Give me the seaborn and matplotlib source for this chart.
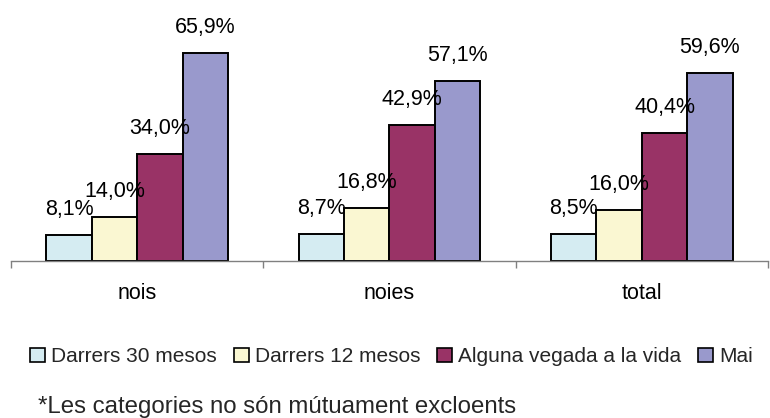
import matplotlib
matplotlib.use("Agg")
import matplotlib.pyplot as plt
from matplotlib.patches import Patch
import seaborn as sns
import pandas as pd

groups = ["nois", "noies", "total"]
series = ["Darrers 30 mesos", "Darrers 12 mesos", "Alguna vegada a la vida", "Mai"]
darrers_30 = [8.1, 8.7, 8.5]
darrers_12 = [14.0, 16.8, 16.0]
alguna_vegada = [34.0, 42.9, 40.4]
mai = [65.9, 57.1, 59.6]
colors = ["#D5ECF2", "#FAF7D2", "#993366", "#9999CC"]
footnote = "*Les categories no són mútuament excloents"

rows = []
for s, vals in zip(series, [darrers_30, darrers_12, alguna_vegada, mai]):
    for g, v in zip(groups, vals):
        rows.append({"grup": g, "serie": s, "valor": v})
df = pd.DataFrame(rows)

sns.set_theme(style="white")
plt.rcParams["font.family"] = ["Liberation Sans", "DejaVu Sans"]

W, H = 770, 418
fig = plt.figure(figsize=(W / 100, H / 100), dpi=100)
left, right = 11, 768
base, top = 261, 261 - 70 * 3.16
ax = fig.add_axes([left / W, (H - base) / H, (right - left) / W, (base - top) / H])

sns.barplot(data=df, x="grup", y="valor", hue="serie", order=groups,
            hue_order=series, palette=colors, width=0.72, dodge=True,
            edgecolor="black", linewidth=1.4, saturation=1, ax=ax, legend=False)

ax.set_xlim(-0.5, -0.5 + (right - left) / 256)
ax.set_ylim(0, 70)
ax.set_xlabel("")
ax.set_ylabel("")
ax.set_yticks([])
for side in ["top", "right", "left"]:
    ax.spines[side].set_visible(False)
ax.spines["bottom"].set_color("#808080")
ax.spines["bottom"].set_linewidth(1.0)

ax.set_xticks([-0.5, 0.5, 1.5, 2.5], minor=True)
ax.tick_params(axis="x", which="minor", length=5, width=1, color="#808080",
               direction="out", bottom=True)
ax.tick_params(axis="x", which="major", length=0, pad=16, labelsize=15.5,
               labelcolor="black")

for container in ax.containers:
    for bar in container:
        h = bar.get_height()
        ax.annotate(f"{h:.1f}%".replace(".", ","),
                    (bar.get_x() + bar.get_width() / 2, h),
                    xytext=(0, 14.4), textcoords="offset points",
                    ha="center", va="baseline", fontsize=15.5, color="black",
                    annotation_clip=False)

handles = [Patch(facecolor=c, edgecolor="black", linewidth=1.2) for c in colors]
fig.legend(handles, series, loc="center left", bbox_to_anchor=(30 / W, 1 - 357 / H),
           ncol=4, frameon=False, fontsize=15, handlelength=0.72, handleheight=0.63,
           handletextpad=0.3, columnspacing=0.8, borderaxespad=0, borderpad=0)

fig.text(38 / W, 1 - 413 / H, footnote, ha="left", va="baseline", fontsize=17.3)

fig.savefig("out.png", dpi=100)
